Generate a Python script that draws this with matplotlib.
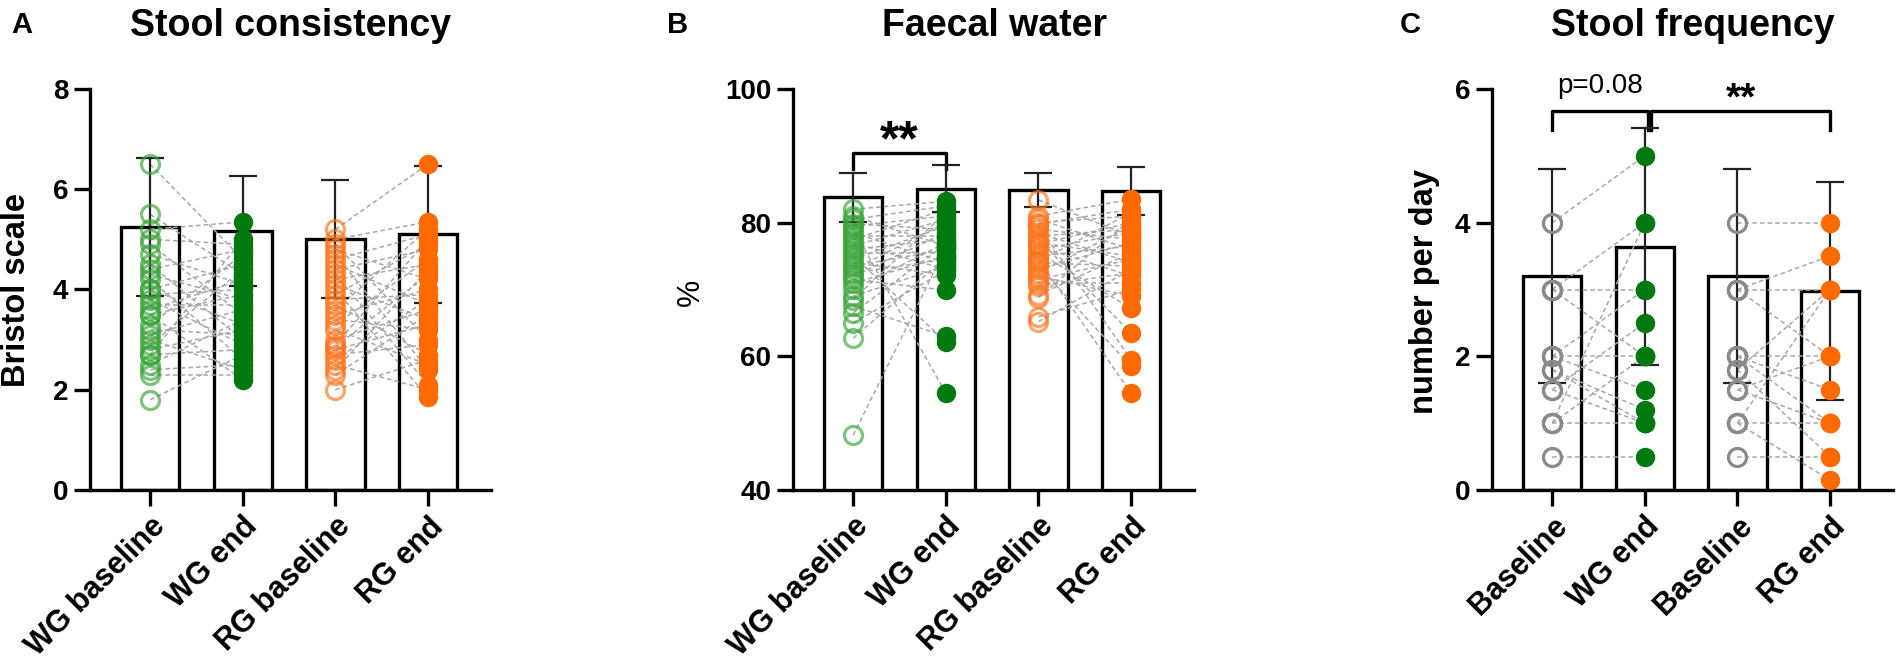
import numpy as np
import matplotlib
matplotlib.use("Agg")
import matplotlib.pyplot as plt

plt.rcParams['font.family'] = ['Liberation Sans', 'DejaVu Sans']
plt.rcParams['font.weight'] = 'bold'

## data
labels_A = ["WG baseline", "WG end", "RG baseline", "RG end"]
mean_A = [5.25, 5.17, 5.01, 5.10]
sd_A = [1.37, 1.10, 1.18, 1.37]
wg_base_A = [6.5, 5.5, 5.2, 5.0, 4.9, 4.7, 4.5, 4.4, 4.3, 4.2, 4.0, 4.0, 3.9, 3.8, 3.7,
             3.6, 3.5, 3.5, 3.3, 3.2, 3.1, 3.0, 2.9, 2.8, 2.7, 2.7, 2.5, 2.4, 2.3, 1.8]
wg_end_A = [4.6, 4.3, 5.35, 4.9, 3.5, 4.1, 3.0, 4.8, 3.8, 2.6, 4.5, 3.3, 4.0, 2.9, 3.7,
            4.2, 2.2, 3.9, 4.7, 3.1, 3.6, 2.4, 4.4, 3.2, 5.0, 2.8, 3.4, 2.5, 2.3, 2.7]
rg_base_A = [5.2, 5.0, 4.9, 4.8, 4.7, 4.6, 4.5, 4.4, 4.3, 4.2, 4.1, 4.0, 3.9, 3.8, 3.7,
             3.6, 3.5, 3.4, 3.3, 3.2, 3.0, 2.9, 2.85, 2.8, 2.7, 2.6, 2.5, 2.4, 2.3, 2.0]
rg_end_A = [6.5, 5.35, 3.0, 4.2, 2.4, 5.1, 3.7, 4.8, 2.1, 4.5, 3.4, 1.85, 4.9, 3.9, 2.7,
            5.2, 4.0, 3.2, 4.6, 2.5, 3.6, 5.0, 4.3, 3.3, 2.9, 3.8, 2.0, 4.4, 3.5, 2.6]

labels_B = ["WG baseline", "WG end", "RG baseline", "RG end"]
mean_B = [83.8, 85.1, 84.9, 84.8]
sd_B = [3.7, 3.5, 2.6, 3.6]
wg_base_B = [82, 81, 80.5, 79.8, 79.5, 79, 78.5, 78, 77.5, 77, 76.5, 76, 75.5, 75, 74.5,
             74, 73.5, 73, 72.5, 72, 71.5, 71, 70, 69, 68.5, 67.5, 66.5, 65, 62.7, 48.2]
wg_end_B = [83.2, 76.5, 82.5, 79, 81, 54.5, 74, 78, 82, 73, 80.5, 77.5, 75.5, 62.2, 79.5,
            72.2, 76, 80, 74.5, 78.5, 69.9, 75, 77, 73.5, 81.5, 63, 76.8, 72.8, 74.8, 76.2]
rg_base_B = [83.4, 81, 80.5, 80, 79.8, 79.5, 79, 78.5, 78, 77.5, 77, 76.8, 76.5, 76, 75.5,
             75, 74.5, 74.2, 74, 73.5, 73, 72.5, 72, 71.5, 71, 70.5, 69.2, 68.8, 65.9, 65.2]
rg_end_B = [78, 83.5, 76, 81, 82, 59.5, 77.5, 74, 79, 63.5, 75, 80, 72, 78.5, 67.2,
            76.5, 54.5, 81.5, 73.5, 58.5, 77, 79.5, 69, 74.5, 71, 72.5, 75.5, 80.5, 70, 73]

labels_C = ["Baseline", "WG end", "Baseline", "RG end"]
mean_C = [3.2, 3.64, 3.2, 2.98]
sd_C = [1.6, 1.77, 1.6, 1.63]
wg_base_C = [4, 3, 3, 3, 2, 2, 2, 1.8, 1.8, 1.5, 1.5, 1, 1, 1, 0.5]
wg_end_C = [5, 4, 3, 2, 2, 3, 1.5, 1.2, 1, 2.5, 1, 4, 1, 2, 0.5]
rg_base_C = [4, 3, 3, 3, 2, 2, 2, 1.8, 1.8, 1.5, 1.5, 1, 1, 1, 0.5]
rg_end_C = [4, 3.5, 3, 2, 2, 1.5, 1, 3, 0.5, 1, 2, 3, 1, 0.15, 0.5]

W, H = 1902, 668
fig = plt.figure(figsize=(W / 100, H / 100), dpi=100)

light_green = (0.22, 0.64, 0.22, 0.65)
dark_green = '#007A10'
light_orange = (1.0, 0.45, 0.1, 0.65)
orange = '#FF6A00'
grey = '#8A8A8A'
LW = 2.4


def draw_panel(left_px, labels, means, sds, wg_b, wg_e, rg_b, rg_e, cols, ylim, yticks):
    ax = fig.add_axes([left_px / W, 178 / H, 401 / W, 401 / H])
    x = np.arange(4)
    ax.bar(x, means, width=0.63, color='white', edgecolor='black', linewidth=LW, zorder=1)
    for b, e in zip(wg_b, wg_e):
        ax.plot([0, 1], [b, e], color='#A8A8A8', lw=1.1, ls=(0, (3, 2)), zorder=2)
    for b, e in zip(rg_b, rg_e):
        ax.plot([2, 3], [b, e], color='#A8A8A8', lw=1.1, ls=(0, (3, 2)), zorder=2)
    ax.errorbar(x, means, yerr=sds, fmt='none', ecolor='#222222', elinewidth=1.6,
                capsize=10, capthick=1.6, zorder=3)
    ax.plot([0] * len(wg_b), wg_b, 'o', ms=13, mfc='none', mec=cols[0], mew=2.3, zorder=4)
    ax.plot([1] * len(wg_e), wg_e, 'o', ms=13, color=cols[1], zorder=4)
    ax.plot([2] * len(rg_b), rg_b, 'o', ms=13, mfc='none', mec=cols[2], mew=2.3, zorder=4)
    ax.plot([3] * len(rg_e), rg_e, 'o', ms=13, color=cols[3], zorder=4)

    ax.set_xlim(-0.65, 3.68)
    ax.set_ylim(*ylim)
    ax.set_yticks(yticks)
    ax.set_xticks(x)
    ax.set_xticklabels(labels, rotation=45, ha='right', va='top', rotation_mode='anchor',
                       fontsize=22, fontweight='bold')
    for s in ['top', 'right']:
        ax.spines[s].set_visible(False)
    for s in ['left', 'bottom']:
        ax.spines[s].set_linewidth(LW)
    ax.tick_params(axis='both', width=LW, length=11.5, pad=4)
    ax.tick_params(axis='y', labelsize=20)
    ax.patch.set_alpha(0)
    return ax


axA = draw_panel(90, labels_A, mean_A, sd_A, wg_base_A, wg_end_A, rg_base_A, rg_end_A,
                 [light_green, dark_green, light_orange, orange], (0, 8), [0, 2, 4, 6, 8])
axB = draw_panel(793, labels_B, mean_B, sd_B, wg_base_B, wg_end_B, rg_base_B, rg_end_B,
                 [light_green, dark_green, light_orange, orange], (40, 100), [40, 60, 80, 100])
axC = draw_panel(1492, labels_C, mean_C, sd_C, wg_base_C, wg_end_C, rg_base_C, rg_end_C,
                 [grey, dark_green, grey, orange], (0, 6), [0, 2, 4, 6])

# significance brackets
axB.plot([0, 0, 1, 1], [88.0, 90.4, 90.4, 88.0], color='black', lw=LW, clip_on=False)
axB.text(0.5, 90.1, '**', ha='center', va='baseline', fontsize=36, fontweight='bold')

axC.plot([0, 0, 1.03, 1.03], [5.39, 5.67, 5.67, 5.39], color='black', lw=LW, clip_on=False)
axC.plot([1.07, 1.07, 3, 3], [5.39, 5.67, 5.67, 5.39], color='black', lw=LW, clip_on=False)
axC.text(0.52, 5.94, 'p=0.08', ha='center', va='baseline', fontsize=20, fontweight='normal')
axC.text(2.04, 5.69, '**', ha='center', va='baseline', fontsize=28, fontweight='bold')

# titles, panel letters, axis labels
for cx, title in [(290.5, 'Stool consistency'), (995, 'Faecal water'), (1692.5, 'Stool frequency')]:
    fig.text(cx / W, 1 - 36 / H, title, ha='center', va='baseline', fontsize=27, fontweight='bold')
for lx, letter in [(11, 'A'), (667, 'B'), (1400, 'C')]:
    fig.text(lx / W, 1 - 33 / H, letter, ha='left', va='baseline', fontsize=21, fontweight='bold')

fig.text(17 / W, 1 - 290 / H, 'Bristol scale', rotation=90, ha='center', va='center',
         fontsize=23.5, fontweight='bold')
fig.text(691 / W, 1 - 292 / H, '%', rotation=90, ha='center', va='center',
         fontsize=22, fontweight='normal')
fig.text(1425 / W, 1 - 292 / H, 'number per day', rotation=90, ha='center', va='center',
         fontsize=23.5, fontweight='bold')

fig.savefig('out.png', dpi=100)
